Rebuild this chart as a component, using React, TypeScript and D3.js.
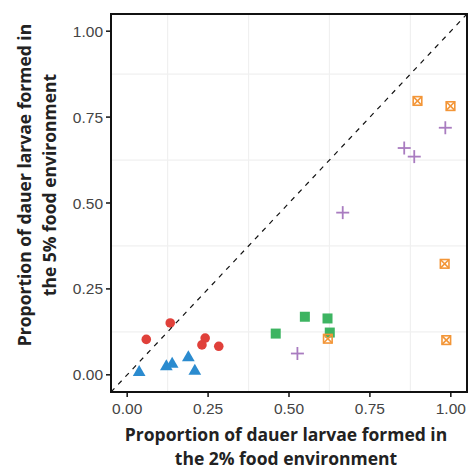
import React from "react";
import * as d3 from "d3";

const redX = [0.059, 0.133, 0.241, 0.231, 0.283];
const redY = [0.103, 0.151, 0.107, 0.087, 0.083];
const blueX = [0.037, 0.121, 0.139, 0.189, 0.209];
const blueY = [0.007, 0.024, 0.031, 0.05, 0.011];
const greenX = [0.459, 0.549, 0.619, 0.626];
const greenY = [0.12, 0.169, 0.164, 0.123];
const orangeX = [0.62, 0.986, 0.897, 0.999, 0.981];
const orangeY = [0.105, 0.101, 0.797, 0.782, 0.323];
const purpleX = [0.526, 0.983, 0.856, 0.887, 0.666];
const purpleY = [0.062, 0.719, 0.66, 0.635, 0.472];

const ticks = [0, 0.25, 0.5, 0.75, 1];
const tickLabels = ["0.00", "0.25", "0.50", "0.75", "1.00"];
const minorTicks = [0.125, 0.375, 0.625, 0.875];

const W = 470, H = 471;
const x = d3.scaleLinear().domain([-0.05, 1.05]).range([111, 467]);
const y = d3.scaleLinear().domain([-0.05, 1.05]).range([392, 14]);

const RED = "#E0403A", BLUE = "#2B8BCF", GREEN = "#3DB461", ORANGE = "#F39638", PURPLE = "#A97CC0";

export default function App() {
  const zip = (xs: number[], ys: number[]) => xs.map((v, i) => [x(v), y(ys[i])]);
  const tri = d3.symbol(d3.symbolTriangle, 70)() as string;
  const titleFont = "'Open Sans', Lato, sans-serif";
  return (
    <svg width={W} height={H} style={{ position: "absolute", left: 0, top: 0 }}>
      <rect x={0} y={0} width={W} height={H} fill="white" />
      {minorTicks.map((t) => (
        <g key={"m" + t}>
          <line x1={x(t)} x2={x(t)} y1={y(-0.05)} y2={y(1.05)} stroke="#f0f0f0" strokeWidth={1.2} />
          <line x1={x(-0.05)} x2={x(1.05)} y1={y(t)} y2={y(t)} stroke="#f0f0f0" strokeWidth={1.2} />
        </g>
      ))}
      {zip(redX, redY).map(([cx, cy], i) => (
        <circle key={"r" + i} cx={cx} cy={cy} r={4.8} fill={RED} />
      ))}
      {zip(blueX, blueY).map(([cx, cy], i) => (
        <path key={"b" + i} d={tri} transform={`translate(${cx},${cy})`} fill={BLUE} />
      ))}
      {zip(greenX, greenY).map(([cx, cy], i) => (
        <rect key={"g" + i} x={cx - 5} y={cy - 5} width={10} height={10} fill={GREEN} />
      ))}
      {zip(orangeX, orangeY).map(([cx, cy], i) => (
        <g key={"o" + i} stroke={ORANGE} strokeWidth={1.6} fill="none">
          <rect x={cx - 4.3} y={cy - 4.3} width={8.6} height={8.6} />
          <line x1={cx - 4.3} y1={cy - 4.3} x2={cx + 4.3} y2={cy + 4.3} />
          <line x1={cx - 4.3} y1={cy + 4.3} x2={cx + 4.3} y2={cy - 4.3} />
        </g>
      ))}
      {zip(purpleX, purpleY).map(([cx, cy], i) => (
        <g key={"p" + i} stroke={PURPLE} strokeWidth={1.8}>
          <line x1={cx - 6.5} x2={cx + 6.5} y1={cy} y2={cy} />
          <line x1={cx} x2={cx} y1={cy - 6.5} y2={cy + 6.5} />
        </g>
      ))}
      <line x1={x(-0.05)} y1={y(-0.05)} x2={x(1.05)} y2={y(1.05)} stroke="#111" strokeWidth={1.2} strokeDasharray="5,5.5" />
      <rect x={x(-0.05)} y={y(1.05)} width={x(1.05) - x(-0.05)} height={y(-0.05) - y(1.05)} fill="none" stroke="#111" strokeWidth={2} />
      {ticks.map((t, i) => (
        <g key={"t" + t}>
          <line x1={x(t)} x2={x(t)} y1={y(-0.05)} y2={y(-0.05) + 5} stroke="#111" strokeWidth={1.5} />
          <text x={x(t)} y={y(-0.05) + 22} textAnchor="middle" fontFamily="'Liberation Sans', Arial, sans-serif" fontSize={15.5} fill="#444">{tickLabels[i]}</text>
          <line x1={x(-0.05) - 5} x2={x(-0.05)} y1={y(t)} y2={y(t)} stroke="#111" strokeWidth={1.5} />
          <text x={x(-0.05) - 8} y={y(t) + 5.5} textAnchor="end" fontFamily="'Liberation Sans', Arial, sans-serif" fontSize={15.5} fill="#444">{tickLabels[i]}</text>
        </g>
      ))}
      <text textAnchor="middle" fontFamily={titleFont} fontWeight="bold" fontSize={17.5} fill="#222">
        <tspan x={286} y={441}>Proportion of dauer larvae formed in</tspan>
        <tspan x={286} y={465}>the 2% food environment</tspan>
      </text>
      <text transform="translate(0,185) rotate(-90)" textAnchor="middle" fontFamily={titleFont} fontWeight="bold" fontSize={17.5} fill="#222">
        <tspan x={0} y={31}>Proportion of dauer larvae formed in</tspan>
        <tspan x={0} y={56}>the 5% food environment</tspan>
      </text>
    </svg>
  );
}
